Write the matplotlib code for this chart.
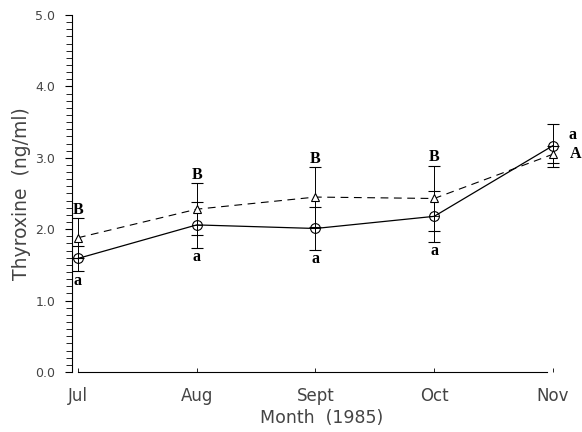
import matplotlib
matplotlib.use("Agg")
from matplotlib import pyplot as plt
from matplotlib.ticker import MultipleLocator
import numpy as np

# Data
months = ["Jul", "Aug", "Sept", "Oct", "Nov"]
circle_mean = [1.59, 2.06, 2.01, 2.18, 3.17]
circle_se = [0.18, 0.32, 0.30, 0.36, 0.30]
tri_mean = [1.88, 2.28, 2.45, 2.43, 3.05]
tri_se = [0.28, 0.36, 0.42, 0.46, 0.12]
circle_letters = ["a", "a", "a", "a", "a"]
tri_letters = ["B", "B", "B", "B", "A"]

x = np.arange(len(months))
txt_col = "#444444"

fig = plt.figure(figsize=(5.82, 4.32), dpi=100)
ax = fig.add_axes([0.1237, 0.1389, 0.857, 0.8264])

# dashed series (triangles)
ax.plot(x, tri_mean, color="black", lw=0.8, linestyle=(0, (7, 5)), zorder=2)
ax.errorbar(x, tri_mean, yerr=tri_se, fmt="none", ecolor="black",
            elinewidth=0.7, capsize=4, capthick=0.8, zorder=3)
ax.plot(x, tri_mean, linestyle="none", marker="^", markersize=5.5,
        markerfacecolor="white", markeredgecolor="black", markeredgewidth=0.8,
        zorder=4)

# solid series (circles)
ax.plot(x, circle_mean, color="black", lw=0.9, zorder=2)
ax.errorbar(x, circle_mean, yerr=circle_se, fmt="none", ecolor="black",
            elinewidth=0.7, capsize=4, capthick=0.8, zorder=3)
ax.plot(x, circle_mean, linestyle="none", marker="o", markersize=7,
        markerfacecolor="none", markeredgecolor="black", markeredgewidth=0.8,
        zorder=5)
# cross-hair inside circles
ax.plot(x, circle_mean, linestyle="none", marker="+", markersize=7,
        color="black", markeredgewidth=0.6, zorder=5)

# significance letters
lf = dict(family="Liberation Serif", fontsize=11.5, fontweight="bold", color="black")
for i in range(len(months) - 1):
    ax.annotate(tri_letters[i], (x[i], tri_mean[i] + tri_se[i]),
                xytext=(0, 3), textcoords="offset points",
                ha="center", va="baseline", **lf)
    ax.annotate(circle_letters[i], (x[i], circle_mean[i] - circle_se[i]),
                xytext=(0, -1), textcoords="offset points",
                ha="center", va="top", **lf)
ax.annotate(circle_letters[-1], (x[-1], circle_mean[-1]),
            xytext=(11, 8), textcoords="offset points",
            ha="left", va="center", **lf)
ax.annotate(tri_letters[-1], (x[-1], tri_mean[-1]),
            xytext=(12, 0), textcoords="offset points",
            ha="left", va="center", **lf)

ax.set_xlim(-0.05, 4.15)
ax.set_ylim(0, 5.0)

for s in ["top", "right"]:
    ax.spines[s].set_visible(False)
ax.spines["left"].set_linewidth(0.8)
ax.spines["bottom"].set_linewidth(0.8)
ax.spines["bottom"].set_bounds(0, 3.95)

ax.set_yticks(np.arange(0, 5.01, 1.0))
ax.set_yticklabels([f"{v:.1f}" for v in np.arange(0, 5.01, 1.0)])
ax.yaxis.set_minor_locator(MultipleLocator(0.1))
ax.tick_params(axis="y", which="major", direction="out", length=5, width=0.8,
               pad=7, labelsize=9, labelcolor=txt_col)
ax.tick_params(axis="y", which="minor", direction="out", length=4, width=0.6)

ax.set_xticks(x)
ax.set_xticklabels(months)
ax.tick_params(axis="x", direction="in", length=3, width=0.6, pad=11,
               labelsize=12, labelcolor=txt_col)

ax.set_xlabel("Month  (1985)", fontsize=12.5, color=txt_col, labelpad=3)
ax.set_ylabel("Thyroxine  (ng/ml)", fontsize=13.5, color=txt_col, labelpad=3)

fig.savefig("out.png", dpi=100)
